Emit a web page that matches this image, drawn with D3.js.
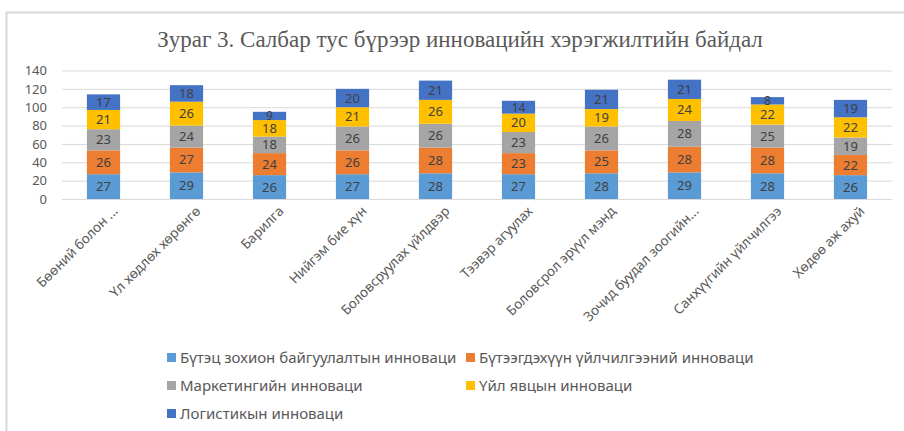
<!DOCTYPE html>
<html>
<head>
<meta charset="utf-8">
<script src="https://cdn.jsdelivr.net/npm/d3@7"></script>
<style>
  body { margin: 0; background: #fff; }
  svg { display: block; }
  .tick line { stroke: #d9d9d9; }
  .tick text { fill: #595959; font-family: "Noto Sans", sans-serif; font-size: 13px; }
  .domain { display: none; }
</style>
</head>
<body>
<svg width="904" height="431"></svg>
<script>
// DATA
const categories = [
  "Бөөний болон ...",
  "Үл хөдлөх хөрөнгө",
  "Барилга",
  "Нийгэм бие хүн",
  "Боловсруулах үйлдвэр",
  "Тээвэр агуулах",
  "Боловсрол эрүүл мэнд",
  "Зочид буудал зоогийн...",
  "Санхүүгийн үйлчилгээ",
  "Хөдөө аж ахуй"
]
const seriesNames = [
  "Бүтэц зохион байгуулалтын инноваци",
  "Бүтээгдэхүүн үйлчилгээний инноваци",
  "Маркетингийн инноваци",
  "Үйл явцын инноваци",
  "Логистикын инноваци"
]
const structural = [27, 29, 26, 27, 28, 27, 28, 29, 28, 26]
const product    = [26, 27, 24, 26, 28, 23, 25, 28, 28, 22]
const marketing  = [23, 24, 18, 26, 26, 23, 26, 28, 25, 19]
const process    = [21, 26, 18, 21, 26, 20, 19, 24, 22, 22]
const logistics  = [17, 18, 9, 20, 21, 14, 21, 21, 8, 19]
const yTicks = [0, 20, 40, 60, 80, 100, 120, 140]
const colors = ["#5b9bd5", "#ed7d31", "#a5a5a5", "#ffc000", "#4472c4"]

const allSeries = [structural, product, marketing, process, logistics]
const table = categories.map((c, i) => {
  const row = { cat: c }
  seriesNames.forEach((s, j) => { row[s] = allSeries[j][i] })
  return row
})

// SETUP
const svg = d3.select("svg")

// frame
svg.append("path")
  .attr("d", "M6.5,431 V12.5 H904")
  .attr("fill", "none")
  .attr("stroke", "#d9d9d9")
  .attr("stroke-width", 2)

svg.append("text")
  .attr("x", 460)
  .attr("y", 47)
  .attr("text-anchor", "middle")
  .attr("fill", "#595959")
  .attr("font-family", "Liberation Serif, serif")
  .attr("font-size", 23)
  .text("Зураг 3. Салбар тус бүрээр инновацийн хэрэгжилтийн байдал")

const scaleX = d3.scaleBand()
  .domain(categories)
  .range([62, 892])
  .paddingInner(0.6)
  .paddingOuter(0.3)

const scaleY = d3.scaleLinear()
  .domain([0, 140])
  .range([199, 70.5])

const axisY = d3.axisLeft(scaleY)
  .tickValues(yTicks)
  .tickSize(-830)
  .tickPadding(15)

svg.append("g")
  .attr("class", "y-axis")
  .attr("transform", "translate(62, 0)")
  .call(axisY)

const stack = d3.stack().keys(seriesNames)
const layers = stack(table)

const groups = svg.selectAll("g.layer")
  .data(layers)
  .enter()
  .append("g")
  .attr("class", "layer")
  .attr("fill", (d, i) => colors[i])

groups.selectAll("rect")
  .data(d => d)
  .enter()
  .append("rect")
  .attr("x", d => scaleX(d.data.cat))
  .attr("y", d => scaleY(d[1]))
  .attr("width", scaleX.bandwidth())
  .attr("height", d => scaleY(d[0]) - scaleY(d[1]))

groups.selectAll("text")
  .data(d => d)
  .enter()
  .append("text")
  .attr("x", d => scaleX(d.data.cat) + scaleX.bandwidth() / 2)
  .attr("y", d => (scaleY(d[0]) + scaleY(d[1])) / 2 + 4.5)
  .attr("text-anchor", "middle")
  .attr("fill", "#404040")
  .attr("font-family", "Noto Sans, sans-serif")
  .attr("font-size", d => (d[1] - d[0]) < 15 ? 12 : 13)
  .text(d => d[1] - d[0])

// category labels
svg.selectAll("text.cat")
  .data(categories)
  .enter()
  .append("text")
  .attr("class", "cat")
  .attr("transform", d => {
    const x = scaleX(d) + scaleX.bandwidth() / 2 + 15
    return `translate(${x}, 212) rotate(-45)`
  })
  .attr("text-anchor", "end")
  .attr("fill", "#595959")
  .attr("font-family", "Noto Sans, sans-serif")
  .attr("font-size", 13.5)
  .text(d => d)

// legend
const legendPos = [[167, 358], [466, 358], [167, 386], [466, 386], [167, 414]]
const legend = svg.selectAll("g.legend")
  .data(seriesNames)
  .enter()
  .append("g")
  .attr("class", "legend")
  .attr("transform", (d, i) => `translate(${legendPos[i][0]}, ${legendPos[i][1]})`)

legend.append("rect")
  .attr("x", 0)
  .attr("y", -5)
  .attr("width", 9)
  .attr("height", 9)
  .attr("fill", (d, i) => colors[i])

legend.append("text")
  .attr("x", 13)
  .attr("y", 5)
  .attr("fill", "#595959")
  .attr("font-family", "Noto Sans, sans-serif")
  .attr("font-size", 15)
  .text(d => d)
</script>
</body>
</html>
